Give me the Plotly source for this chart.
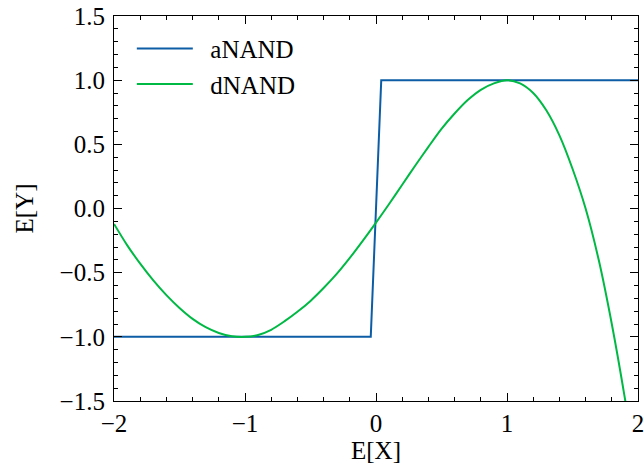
import plotly.graph_objects as go

# aNAND: step response
x_anand = [-2.0, -0.04, 0.04, 2.0]
y_anand = [-1.0, -1.0, 1.0, 1.0]

# dNAND
x_dnand = [-2.0, -1.9, -1.8, -1.7, -1.6, -1.5, -1.4, -1.3, -1.2, -1.1, -1.0,
           -0.9, -0.8, -0.7, -0.6, -0.5, -0.4, -0.3, -0.2, -0.1, 0.0,
           0.1, 0.2, 0.3, 0.4, 0.5, 0.6, 0.7, 0.8, 0.9, 1.0,
           1.1, 1.2, 1.3, 1.4, 1.5, 1.6, 1.7, 1.8, 1.9, 2.0]
y_dnand = [-0.12, -0.285, -0.43, -0.56, -0.675, -0.775, -0.86, -0.925, -0.97, -0.995, -1.0,
           -0.985, -0.945, -0.88, -0.805, -0.72, -0.62, -0.51, -0.385, -0.25, -0.11,
           0.035, 0.185, 0.335, 0.48, 0.62, 0.74, 0.845, 0.925, 0.975, 1.0,
           0.975, 0.90, 0.765, 0.57, 0.31, 0.0, -0.40, -0.90, -1.48, -2.13]

x_title = "E[X]"
y_title = "E[Y]"
names = ["aNAND", "dNAND"]

FONT = "Liberation Serif, Times New Roman, serif"
FS = 25

fig = go.Figure()
fig.add_trace(go.Scatter(x=x_anand, y=y_anand, mode="lines", name="\u00a0\u00a0" + names[0],
                         line=dict(color="#0C5DA5", width=2)))
fig.add_trace(go.Scatter(x=x_dnand, y=y_dnand, mode="lines", name="\u00a0\u00a0" + names[1],
                         line=dict(color="#00B945", width=2, shape="spline", smoothing=0.8)))

axis_common = dict(
    showline=True, linecolor="black", linewidth=1.2, mirror="allticks",
    ticks="inside", ticklen=8, tickwidth=1.2, tickcolor="black",
    showgrid=False, zeroline=False, automargin=False,
    ticklabeloverflow="allow",
    tickfont=dict(family=FONT, size=FS, color="black"),
)

fig.update_xaxes(range=[-2, 2], tick0=-2, dtick=1,
                 minor=dict(ticks="inside", ticklen=4, tickwidth=1, tickcolor="black", dtick=0.2),
                 title=dict(text=x_title, font=dict(family=FONT, size=FS, color="black"), standoff=4),
                 **axis_common)
fig.update_yaxes(range=[-1.5, 1.5], tick0=-1.5, dtick=0.5, tickformat=".1f",
                 ticklabelstandoff=3,
                 minor=dict(ticks="inside", ticklen=4, tickwidth=1, tickcolor="black", dtick=0.1),
                 title=dict(text=y_title, font=dict(family=FONT, size=FS, color="black"), standoff=18),
                 **axis_common)

fig.update_layout(
    width=644, height=470,
    margin=dict(l=114, r=6, t=16, b=69),
    paper_bgcolor="white", plot_bgcolor="white",
    font=dict(family=FONT, size=FS, color="black"),
    legend=dict(x=0.034, y=0.975, xanchor="left", yanchor="top",
                bgcolor="rgba(0,0,0,0)", font=dict(family=FONT, size=FS),
                itemwidth=56, tracegroupgap=0),
    showlegend=True,
)

fig.write_html("out.html", config={"displayModeBar": False},
               post_script="document.body.style.margin='0';")
